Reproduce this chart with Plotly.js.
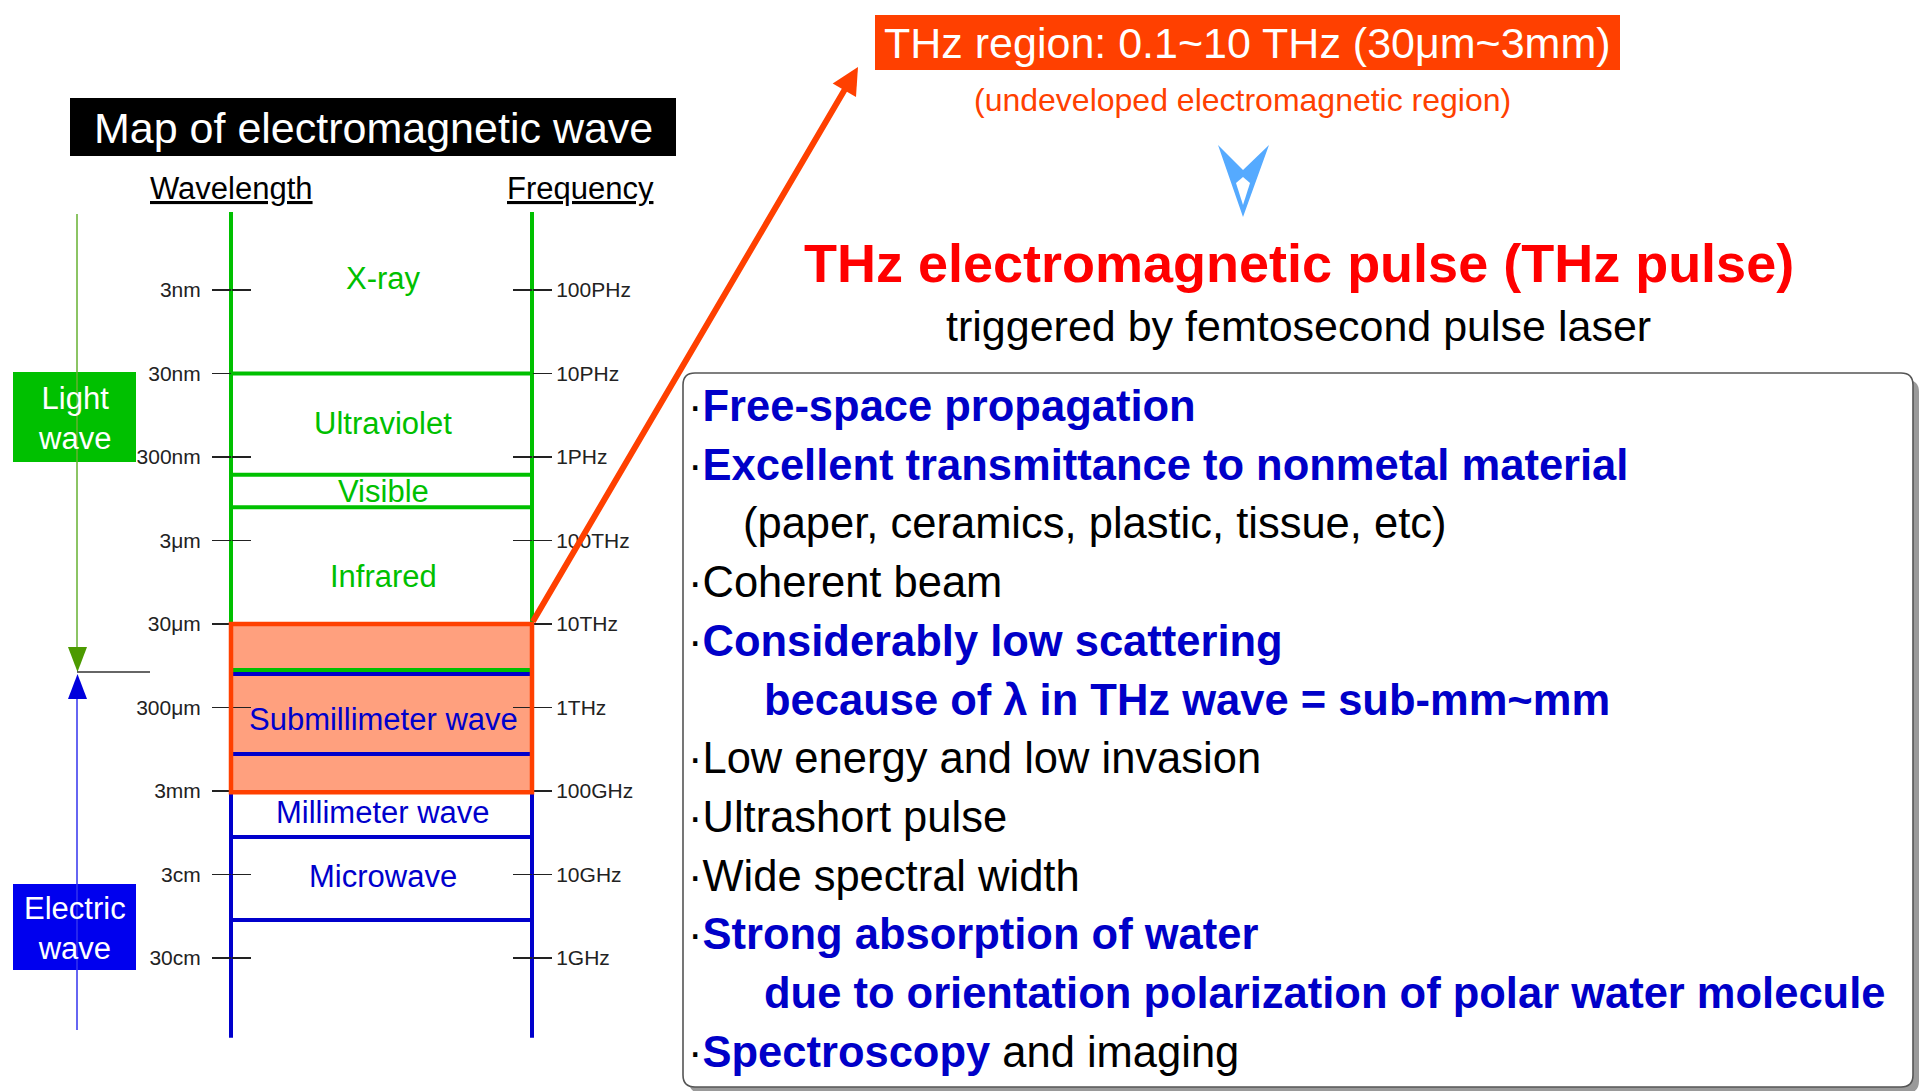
<!DOCTYPE html>
<html><head><meta charset="utf-8">
<script src="https://cdn.plot.ly/plotly-3.0.1.min.js"></script>
<style>html,body{margin:0;padding:0;background:#fff;overflow:hidden}#chart{width:1921px;height:1091px}</style>
</head><body><div id="chart"></div>
<script>
// ---------------- data ----------------
const wavelengthTickValues = [3e-9, 3e-8, 3e-7, 3e-6, 3e-5, 3e-4, 3e-3, 3e-2, 3e-1]; // metres
const wavelengthTickLabels = ['3nm', '30nm', '300nm', '3μm', '30μm', '300μm', '3mm', '3cm', '30cm'];
const frequencyTickValues = [1e17, 1e16, 1e15, 1e14, 1e13, 1e12, 1e11, 1e10, 1e9]; // Hz
const frequencyTickLabels = ['100PHz', '10PHz', '1PHz', '100THz', '10THz', '1THz', '100GHz', '10GHz', '1GHz'];
const bandNames = ['X-ray', 'Ultraviolet', 'Visible', 'Infrared', 'Submillimeter wave', 'Millimeter wave', 'Microwave'];
const bandFamily = ['light', 'light', 'light', 'light', 'electric', 'electric', 'electric'];
const bandLabelWavelength = [2.2e-9, 1.2e-7, 7.7e-7, 8.2e-6, 4.2e-4, 5.5e-3, 3.2e-2];
const boundaryWavelength = [3e-8, 4.9e-7, 1.2e-6, 1.07e-4, 1.19e-4, 1.08e-3, 1.07e-2, 1.05e-1];
const boundaryFamily = ['light', 'light', 'light', 'light', 'electric', 'electric', 'electric', 'electric'];
const thzBandWavelength = [3e-5, 3.1e-3];      // 10 THz ... 0.1 THz
const ladderWavelength = [3.5e-10, 1.07e-4, 2.7]; // top, light/electric split, bottom
const speedOfLight = 3e8;
const features = [
  'Free-space propagation',
  'Excellent transmittance to nonmetal material',
  '(paper, ceramics, plastic, tissue, etc)',
  'Coherent beam',
  'Considerably low scattering',
  'because of λ in THz wave = sub-mm~mm',
  'Low energy and low invasion',
  'Ultrashort pulse',
  'Wide spectral width',
  'Strong absorption of water',
  'due to orientation polarization of polar water molecule',
  'Spectroscopy|and imaging'
];
const featureKind = ['key', 'key', 'note', 'plain', 'key', 'keyNote', 'plain', 'plain', 'plain', 'key', 'keyNote', 'mixed'];

// ---------------- styling / layout ----------------
const W = 1921, H = 1091;
const FONT = 'Liberation Sans, Arial, Helvetica, sans-serif';
const GREEN = '#00C000', BLUE = '#0000CC', ORANGE = '#FF4000', TEXTBLUE = '#0000C8';
const famColor = f => (f === 'light' ? GREEN : BLUE);
const L = Math.log10;
const xLeft = 231, xRight = 532, xMid = 383;
// wavelength axis: linear in log10(lambda); 3 nm sits at 290 px, one decade = 83.5 px
const anchorLog = L(wavelengthTickValues[0]), decadePx = 83.5, anchorPx = 290;
const lamTopLog = anchorLog - anchorPx / decadePx;
const lamBotLog = anchorLog + (H - anchorPx) / decadePx;
const lamRange = [lamBotLog, lamTopLog];
const freqRange = [L(speedOfLight) - lamBotLog, L(speedOfLight) - lamTopLog];

const tickCommon = {tickmode: 'array', showgrid: false, zeroline: false, showline: false,
  ticklen: 19, tickwidth: 1.6, tickcolor: '#222', anchor: 'free', fixedrange: true,
  tickfont: {family: FONT, size: 21, color: '#222'}};

const yWave = Object.assign({}, tickCommon, {range: lamRange, position: xLeft / W, side: 'left',
  tickvals: wavelengthTickValues.map(L), ticktext: wavelengthTickLabels, ticks: 'outside', ticklabelstandoff: 7});
const yWaveIn = Object.assign({}, tickCommon, {range: lamRange, position: xLeft / W, side: 'left',
  overlaying: 'y', tickvals: wavelengthTickValues.map(L), ticks: 'inside', showticklabels: false});
const yFreq = Object.assign({}, tickCommon, {range: freqRange, position: xRight / W, side: 'right',
  overlaying: 'y', tickvals: frequencyTickValues.map(L), ticktext: frequencyTickLabels, ticks: 'outside'});
const yFreqIn = Object.assign({}, tickCommon, {range: freqRange, position: xRight / W, side: 'right',
  overlaying: 'y', tickvals: frequencyTickValues.map(L), ticks: 'inside', showticklabels: false});
const yPix = {range: [H, 0], overlaying: 'y', visible: false, fixedrange: true, anchor: 'x'};

// ---------------- traces ----------------
const topL = L(ladderWavelength[0]), splitL = L(ladderWavelength[1]), botL = L(ladderWavelength[2]);
const traces = [
  {type: 'scatter', mode: 'lines', xaxis: 'x', yaxis: 'y', hoverinfo: 'skip', showlegend: false,
   x: [xLeft, xLeft, null, xRight, xRight], y: [topL, splitL, null, topL, splitL],
   line: {color: GREEN, width: 4}},
  {type: 'scatter', mode: 'lines', xaxis: 'x', yaxis: 'y', hoverinfo: 'skip', showlegend: false,
   x: [xLeft, xLeft, null, xRight, xRight], y: [splitL, botL, null, splitL, botL],
   line: {color: BLUE, width: 4}},
  {type: 'scatter', mode: 'markers', xaxis: 'x', yaxis: 'y2', hoverinfo: 'skip', showlegend: false,
   x: wavelengthTickValues.map(() => xLeft), y: wavelengthTickValues.map(L), marker: {opacity: 0}},
  {type: 'scatter', mode: 'markers', xaxis: 'x', yaxis: 'y3', hoverinfo: 'skip', showlegend: false,
   x: frequencyTickValues.map(() => xRight), y: frequencyTickValues.map(L), marker: {opacity: 0}},
  {type: 'scatter', mode: 'markers', xaxis: 'x', yaxis: 'y5', hoverinfo: 'skip', showlegend: false,
   x: frequencyTickValues.map(() => xRight), y: frequencyTickValues.map(L), marker: {opacity: 0}},
  {type: 'scatter', mode: 'markers', xaxis: 'x', yaxis: 'y4', hoverinfo: 'skip', showlegend: false,
   x: [0], y: [0], marker: {opacity: 0}}
];

// ---------------- shapes ----------------
function roundRect(x0, y0, x1, y1, r) {
  return `M${x0 + r},${y0} H${x1 - r} Q${x1},${y0} ${x1},${y0 + r} V${y1 - r} Q${x1},${y1} ${x1 - r},${y1} ` +
         `H${x0 + r} Q${x0},${y1} ${x0},${y1 - r} V${y0 + r} Q${x0},${y0} ${x0 + r},${y0} Z`;
}
const pix = {xref: 'x', yref: 'y4'};
const shapes = [];
// properties panel with shadow
shapes.push(Object.assign({type: 'path', layer: 'below', path: roundRect(689, 380, 1919, 1093, 12),
  fillcolor: '#9a9a9a', line: {width: 0}}, pix));
shapes.push(Object.assign({type: 'path', layer: 'below', path: roundRect(683, 373, 1913, 1087, 12),
  fillcolor: '#ffffff', line: {color: '#555', width: 1.6}}, pix));
// THz band fill
shapes.push({type: 'rect', layer: 'below', xref: 'x', yref: 'y', x0: xLeft, x1: xRight,
  y0: L(thzBandWavelength[0]), y1: L(thzBandWavelength[1]), fillcolor: '#FFA07E', line: {width: 0}});
// title boxes
shapes.push(Object.assign({type: 'rect', layer: 'below', x0: 70, x1: 676, y0: 98, y1: 156,
  fillcolor: '#000', line: {width: 0}}, pix));
shapes.push(Object.assign({type: 'rect', layer: 'below', x0: 875, x1: 1620, y0: 15, y1: 70,
  fillcolor: ORANGE, line: {width: 0}}, pix));
shapes.push(Object.assign({type: 'rect', layer: 'below', x0: 13, x1: 136, y0: 372, y1: 462,
  fillcolor: GREEN, line: {width: 0}}, pix));
shapes.push(Object.assign({type: 'rect', layer: 'below', x0: 13, x1: 136, y0: 884, y1: 970,
  fillcolor: '#0000EE', line: {width: 0}}, pix));
// band boundaries
boundaryWavelength.forEach((w, i) => shapes.push({type: 'line', layer: 'above', xref: 'x', yref: 'y',
  x0: xLeft, x1: xRight, y0: L(w), y1: L(w), line: {color: famColor(boundaryFamily[i]), width: 4}}));
// THz band outline
shapes.push({type: 'rect', layer: 'above', xref: 'x', yref: 'y', x0: xLeft, x1: xRight,
  y0: L(thzBandWavelength[0]), y1: L(thzBandWavelength[1]), fillcolor: 'rgba(0,0,0,0)',
  line: {color: ORANGE, width: 4.5}});
// light / electric range arrows on the far left
shapes.push(Object.assign({type: 'line', layer: 'above', x0: 77, x1: 77, y0: 214, y1: 650,
  line: {color: '#66B030', width: 1.5}}, pix));
shapes.push(Object.assign({type: 'path', layer: 'above', path: 'M68,647 L87,647 L77.5,672 Z',
  fillcolor: '#4C9A00', line: {width: 0}}, pix));
shapes.push(Object.assign({type: 'line', layer: 'above', x0: 77, x1: 77, y0: 697, y1: 1030,
  line: {color: '#3333EE', width: 1.5}}, pix));
shapes.push(Object.assign({type: 'path', layer: 'above', path: 'M68,699 L87,699 L77.5,674 Z',
  fillcolor: '#0000DD', line: {width: 0}}, pix));
shapes.push(Object.assign({type: 'line', layer: 'above', x0: 77, x1: 150, y0: 672, y1: 672,
  line: {color: '#333', width: 1.3}}, pix));
// blue chevron
shapes.push(Object.assign({type: 'path', layer: 'above', path: 'M1218,145 L1243,170 L1269,145 L1243,217 Z',
  fillcolor: '#55AAFF', line: {width: 0}}, pix));
shapes.push(Object.assign({type: 'path', layer: 'above', path: 'M1236,183 L1243,177 L1250,183 L1243,205 Z',
  fillcolor: '#ffffff', line: {width: 0}}, pix));

// ---------------- annotations ----------------
const ann = [];
const txt = (o) => Object.assign({showarrow: false, xref: 'x', yref: 'y4', xanchor: 'center', yanchor: 'middle'}, o);
ann.push(txt({x: 373, y: 128, text: 'Map of electromagnetic wave', font: {family: FONT, size: 43, color: '#fff'}}));
ann.push(txt({x: 231, y: 188, text: '<u>Wavelength</u>', font: {family: FONT, size: 31, color: '#000'}}));
ann.push(txt({x: 580, y: 188, text: '<u>Frequency</u>', font: {family: FONT, size: 31, color: '#000'}}));
bandNames.forEach((n, i) => ann.push(txt({x: xMid, y: L(bandLabelWavelength[i]), yref: 'y', text: n,
  font: {family: FONT, size: 31, color: famColor(bandFamily[i])}})));
ann.push(txt({x: 74.5, y: 418, text: 'Light<br>wave', font: {family: FONT, size: 31, color: '#fff'}}));
ann.push(txt({x: 74.5, y: 928, text: 'Electric<br>wave', font: {family: FONT, size: 31, color: '#fff'}}));
ann.push(txt({x: 1247, y: 43, text: 'THz region: 0.1~10 THz (30μm~3mm)', font: {family: FONT, size: 43, color: '#fff'}}));
ann.push(txt({x: 1242, y: 100, text: '(undeveloped electromagnetic region)', font: {family: FONT, size: 32, color: ORANGE}}));
ann.push(txt({x: 1299, y: 263, text: '<b>THz electromagnetic pulse (THz pulse)</b>', font: {family: FONT, size: 54, color: '#FF0000'}}));
ann.push(txt({x: 1298, y: 326, text: 'triggered by femtosecond pulse laser', font: {family: FONT, size: 43, color: '#000'}}));
// orange arrow from the THz band to the THz region title
ann.push({xref: 'x', yref: 'y4', axref: 'x', ayref: 'y4', x: 858, y: 67, ax: 532, ay: 623, text: '',
  showarrow: true, arrowhead: 2, arrowsize: 0.9, arrowwidth: 6, arrowcolor: ORANGE, standoff: 0, startstandoff: 0});
// property list
const bullet = '<span style="color:#000">·</span>';
features.forEach((t, i) => {
  const k = featureKind[i];
  let html, x = 686, color = '#000';
  if (k === 'key') { html = bullet + '<b>' + t + '</b>'; color = TEXTBLUE; }
  else if (k === 'keyNote') { html = '<b>' + t + '</b>'; color = TEXTBLUE; x = 762; }
  else if (k === 'note') { html = t; x = 741; }
  else if (k === 'mixed') { const p = t.split('|'); html = bullet + '<b>' + p[0] + '</b> <span style="color:#000">' + p[1] + '</span>'; color = TEXTBLUE; }
  else { html = '·' + t; }
  ann.push(txt({x: x, y: 406 + i * 58.7, xanchor: 'left', text: html, font: {family: FONT, size: 43.5, color: color}}));
});

const layout = {
  width: W, height: H, margin: {l: 0, r: 0, t: 0, b: 0, pad: 0},
  paper_bgcolor: '#fff', plot_bgcolor: 'rgba(0,0,0,0)', showlegend: false,
  font: {family: FONT},
  xaxis: {range: [0, W], visible: false, fixedrange: true, domain: [0, 1]},
  yaxis: yWave, yaxis2: yWaveIn, yaxis3: yFreq, yaxis4: yPix, yaxis5: yFreqIn,
  shapes: shapes, annotations: ann
};
Plotly.newPlot('chart', traces, layout, {displayModeBar: false, staticPlot: true});
</script></body></html>
